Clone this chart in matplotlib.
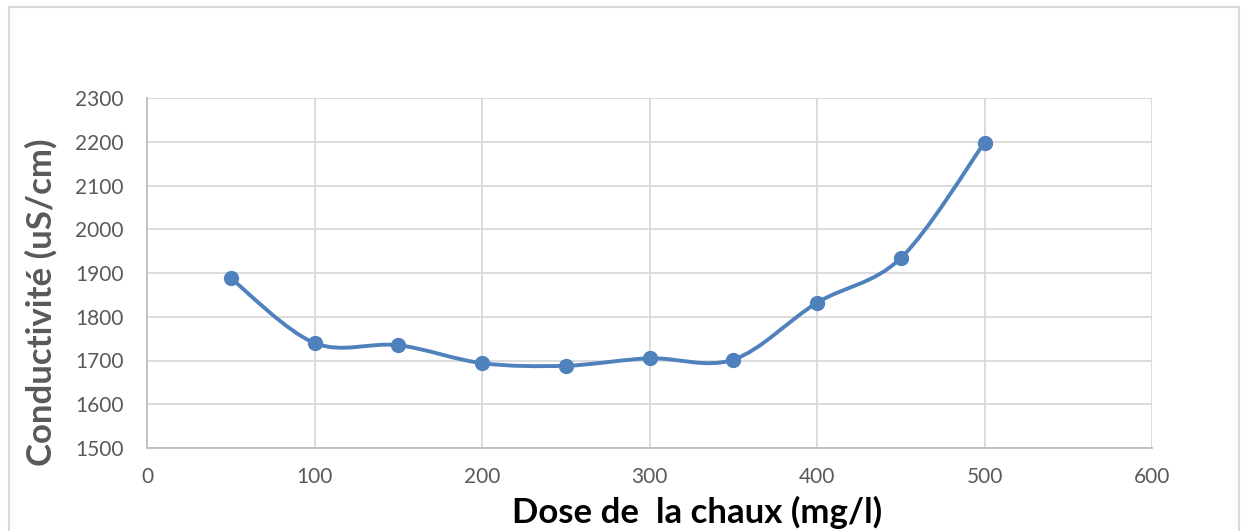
import matplotlib
matplotlib.use("Agg")
import matplotlib.pyplot as plt
from matplotlib.path import Path
from matplotlib.patches import PathPatch, Rectangle
import numpy as np

dose = [50, 100, 150, 200, 250, 300, 350, 400, 450, 500]
conductivite = [1888, 1740, 1735, 1694, 1688, 1705, 1702, 1832, 1934, 2198]
x_ticks = [0, 100, 200, 300, 400, 500, 600]
y_ticks = [1500, 1600, 1700, 1800, 1900, 2000, 2100, 2200, 2300]
xlabel = "Dose de  la chaux (mg/l)"
ylabel = "Conductivité (uS/cm)"

blue = "#4F81BD"
grid_c = "#D9D9D9"
tick_c = "#595959"
font = ["Lato", "DejaVu Sans"]

fig = plt.figure(figsize=(12.43, 5.31), dpi=100)
fig.patches.append(Rectangle((9/1243, -0.1), (1239-9)/1243, 1 + 0.1 - 7/531,
                             transform=fig.transFigure, fill=False,
                             edgecolor=grid_c, linewidth=1.5))
ax = fig.add_axes([147/1243, 1-448/531, (1152-147)/1243, (448-98)/531])

# Smoothed line (Catmull-Rom as cubic Bezier) through the data points
P = np.column_stack([dose, conductivite]).astype(float)
verts = [tuple(P[0])]
codes = [Path.MOVETO]
n = len(P)
for i in range(n - 1):
    p0 = P[i - 1] if i > 0 else P[i]
    p1 = P[i]
    p2 = P[i + 1]
    p3 = P[i + 2] if i + 2 < n else P[i + 1]
    c1 = p1 + (p2 - p0) / 6.0
    c2 = p2 - (p3 - p1) / 6.0
    verts += [tuple(c1), tuple(c2), tuple(p2)]
    codes += [Path.CURVE4] * 3
ax.add_patch(PathPatch(Path(verts, codes), facecolor="none", edgecolor=blue,
                       linewidth=2.8, capstyle="round", joinstyle="round", zorder=3))
ax.plot(dose, conductivite, linestyle="none", marker="o", markersize=10,
        color=blue, zorder=4)

ax.set_xlim(0, 600)
ax.set_ylim(1500, 2300)
ax.set_xticks(x_ticks)
ax.set_yticks(y_ticks)
ax.grid(True, color=grid_c, linewidth=1.3)
ax.set_axisbelow(True)
for s in ["top", "right"]:
    ax.spines[s].set_visible(False)
for s in ["left", "bottom"]:
    ax.spines[s].set_color("#BFBFBF")
    ax.spines[s].set_linewidth(1.3)
ax.tick_params(length=0, colors=tick_c, labelsize=15)
ax.tick_params(axis="x", pad=14)
ax.tick_params(axis="y", pad=17)
for lab in ax.get_xticklabels() + ax.get_yticklabels():
    lab.set_family(font)

fig.text(697/1243, 1-512/531, xlabel, ha="center", va="center",
         fontsize=25, fontweight="bold", family=font, color="black")
fig.text(41/1243, 1-302/531, ylabel, ha="center", va="center", rotation=90,
         fontsize=25, fontweight="bold", family=font, color="#595959")

fig.savefig("out.png", dpi=100)
